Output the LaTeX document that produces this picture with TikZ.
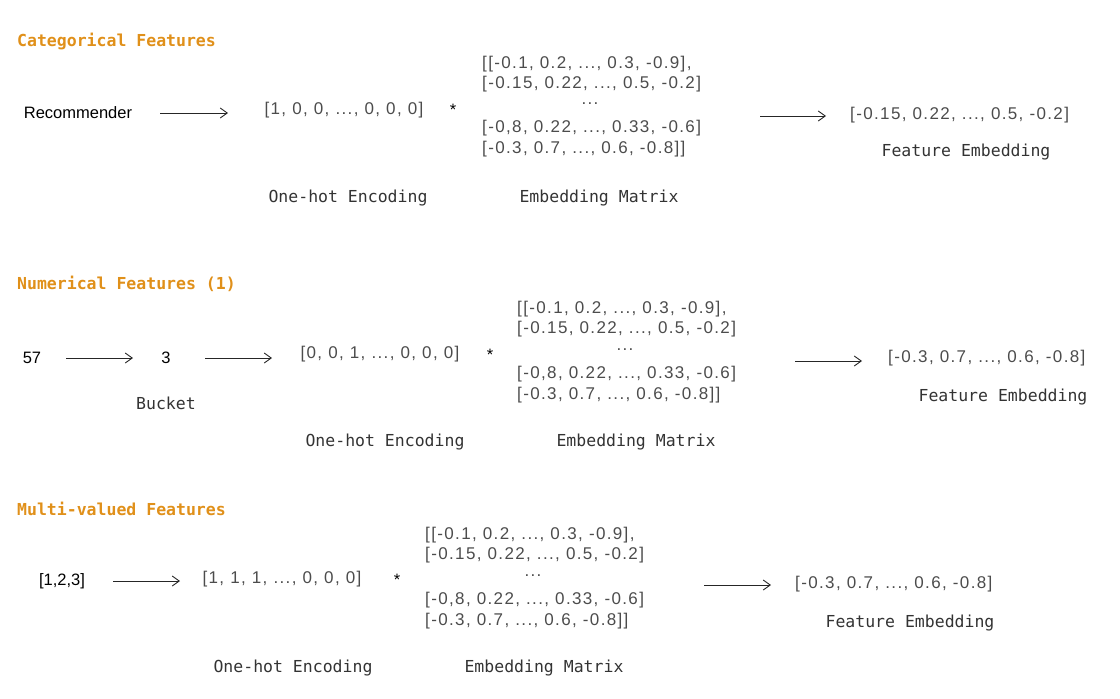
\documentclass[tikz,border=0pt]{standalone}
\usepackage{fontspec}
\setmainfont{Liberation Sans}
\newfontfamily\monof{DejaVu Sans Mono}
\newfontfamily\handf[LetterSpace=8]{Liberation Sans}
\usetikzlibrary{arrows.meta}
\definecolor{ttl}{HTML}{E0901A}
\definecolor{txt}{HTML}{333333}
\begin{document}
\begin{tikzpicture}[x=1pt,y=-1pt,
  title/.style={anchor=west,inner sep=0,text=ttl,font=\monof\bfseries\fontsize{16.5}{18}\selectfont},
  lab/.style={inner sep=0,text=txt,font=\monof\fontsize{16.5}{18}\selectfont},
  vec/.style={inner sep=0,text=black!70,font=\handf\fontsize{17}{19}\selectfont},
  mat/.style={vec,anchor=west},
  plain/.style={inner sep=0,text=black,font=\fontsize{16.5}{18}\selectfont},
  arr/.style={-{Straight Barb[length=7pt,width=10pt]},line width=0.9pt,black!85}]
\useasboundingbox (0,0) rectangle (1120,699);
% ---- Section 1
\node[title] (t1) at (17,41) {Categorical Features};
\node[plain] (r1) at (78,113) {Recommender};
\coordinate (a1s) at (160,113); \coordinate (a1e) at (228,113);
\draw[arr] (a1s) -- (a1e);
\node[vec] (v1) at (344,110) {[1, 0, 0, ..., 0, 0, 0]};
\node[plain] (s1) at (453,110) {*};
\node[mat] (m1a) at (482,64) {[[-0.1, 0.2, ..., 0.3, -0.9],};
\node[mat] (m1b) at (482,84) {[-0.15, 0.22, ..., 0.5, -0.2]};
\node[vec] (m1c) at (590,104) {...};
\node[mat] (m1d) at (482,128) {[-0,8, 0.22, ..., 0.33, -0.6]};
\node[mat] (m1e) at (482,149) {[-0.3, 0.7, ..., 0.6, -0.8]]};
\coordinate (b1s) at (760,116); \coordinate (b1e) at (826,116);
\draw[arr] (b1s) -- (b1e);
\node[mat] (f1) at (850,115) {[-0.15, 0.22, ..., 0.5, -0.2]};
\node[lab] (fe1) at (966,152) {Feature Embedding};
\node[lab] (oh1) at (348,198) {One-hot Encoding};
\node[lab] (em1) at (599,198) {Embedding Matrix};
% ---- Section 2
\node[title] (t2) at (17,284) {Numerical Features (1)};
\node[plain] (n57) at (32,358) {57};
\coordinate (a2s) at (66,358); \coordinate (a2e) at (133,358);
\draw[arr] (a2s) -- (a2e);
\node[plain] (n3) at (166,358) {3};
\node[lab] (bk) at (166,403) {Bucket};
\coordinate (a3s) at (205,358); \coordinate (a3e) at (272,358);
\draw[arr] (a3s) -- (a3e);
\node[vec] (v2) at (380,354) {[0, 0, 1, ..., 0, 0, 0]};
\node[plain] (s2) at (490,355) {*};
\node[mat] (m2a) at (517,309) {[[-0.1, 0.2, ..., 0.3, -0.9],};
\node[mat] (m2b) at (517,329) {[-0.15, 0.22, ..., 0.5, -0.2]};
\node[vec] (m2c) at (625,350) {...};
\node[mat] (m2d) at (517,374) {[-0,8, 0.22, ..., 0.33, -0.6]};
\node[mat] (m2e) at (517,395) {[-0.3, 0.7, ..., 0.6, -0.8]]};
\coordinate (b2s) at (795,361); \coordinate (b2e) at (862,361);
\draw[arr] (b2s) -- (b2e);
\node[mat] (f2) at (888,358) {[-0.3, 0.7, ..., 0.6, -0.8]};
\node[lab] (fe2) at (1003,397) {Feature Embedding};
\node[lab] (oh2) at (385,442) {One-hot Encoding};
\node[lab] (em2) at (636,442) {Embedding Matrix};
% ---- Section 3
\node[title] (t3) at (17,509) {Multi-valued Features};
\node[plain] (l3) at (62,581) {[1,2,3]};
\coordinate (a4s) at (113,581); \coordinate (a4e) at (180,581);
\draw[arr] (a4s) -- (a4e);
\node[vec] (v3) at (282,579) {[1, 1, 1, ..., 0, 0, 0]};
\node[plain] (s3) at (397,580) {*};
\node[mat] (m3a) at (425,535) {[[-0.1, 0.2, ..., 0.3, -0.9],};
\node[mat] (m3b) at (425,555) {[-0.15, 0.22, ..., 0.5, -0.2]};
\node[vec] (m3c) at (533,576) {...};
\node[mat] (m3d) at (425,600) {[-0,8, 0.22, ..., 0.33, -0.6]};
\node[mat] (m3e) at (425,621) {[-0.3, 0.7, ..., 0.6, -0.8]]};
\coordinate (b3s) at (704,585); \coordinate (b3e) at (771,585);
\draw[arr] (b3s) -- (b3e);
\node[mat] (f3) at (795,584) {[-0.3, 0.7, ..., 0.6, -0.8]};
\node[lab] (fe3) at (910,623) {Feature Embedding};
\node[lab] (oh3) at (293,668) {One-hot Encoding};
\node[lab] (em3) at (544,668) {Embedding Matrix};
\end{tikzpicture}
\end{document}
